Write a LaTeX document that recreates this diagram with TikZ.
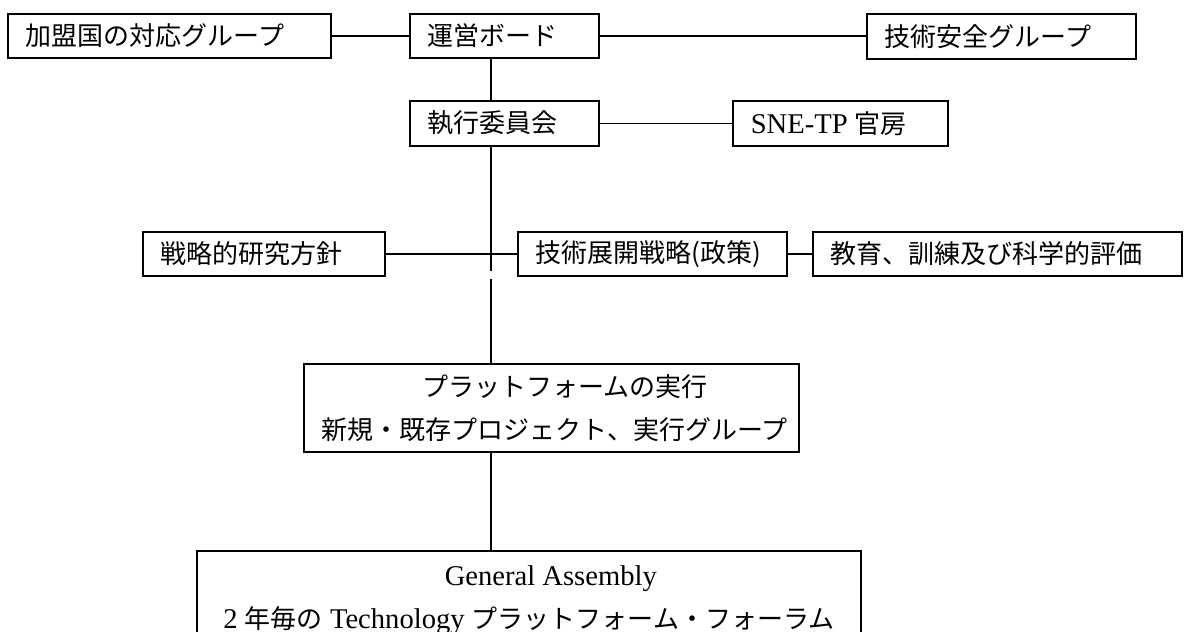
\documentclass[tikz,border=0pt]{standalone}
\usepackage{fontspec}
\setmainfont{Liberation Serif}[Scale=1.1]
\newfontfamily\jp{Noto Sans CJK JP}
\begin{document}
\begin{tikzpicture}[x=1pt,y=-1pt,
  box/.style={draw, line width=1.6pt, rectangle, anchor=north west,
    inner xsep=18pt, inner ysep=0pt, align=flush left,
    font=\fontsize{26}{43}\selectfont},
  cbox/.style={box, align=flush center},
  conn/.style={line width=1.5pt},
  spine/.style={line width=2.2pt}]
\useasboundingbox (0,0) rectangle (1184,632);
\clip (0,0) rectangle (1184,632);
\fill[white] (0,0) rectangle (1184,632);
% boxes
\node[box, text width=287pt, minimum height=44pt] (A) at (7,13) {\jp 加盟国の対応グループ};
\node[box, text width=153pt, minimum height=44pt] (B) at (409,13) {\jp 運営ボード};
\node[box, text width=233pt, minimum height=45pt] (C) at (866,13) {\jp 技術安全グループ};
\node[box, text width=153pt, minimum height=45pt] (D) at (409,100) {\jp 執行委員会};
\node[box, text width=179pt, minimum height=45pt] (SNE) at (732,100) {SNE-TP {\jp 官房}};
\node[box, text width=206pt, minimum height=44pt] (S1) at (142,231) {\jp 戦略的研究方針};
\node[box, text width=233pt, minimum height=44pt] (S2) at (517,231) {\jp 技術展開戦略(政策)};
\node[box, text width=333pt, minimum height=44pt] (S3) at (812,231) {\jp 教育、訓練及び科学的評価};
\node[cbox, text width=459pt, minimum height=88pt] (F) at (303,363)
  {\hspace*{28pt}{\jp プラットフォームの実行}\\{\jp 新規・既存プロジェクト、実行グループ}};
\node[cbox, text width=628pt, minimum height=98pt] (G) at (196,550)
  {\hspace*{44pt}General Assembly\\2 {\jp 年毎の} Technology {\jp プラットフォーム・フォーラム}};
% spine
\coordinate (sp) at (491,0);
\coordinate (gapA) at (491,271);
\coordinate (gapB) at (491,279);
\draw[spine] (sp |- B.south) -- (sp |- D.north);
\draw[spine] (sp |- D.south) -- (gapA);
\draw[spine] (gapB) -- (sp |- F.north);
\draw[spine] (sp |- F.south) -- (sp |- G.north);
% side connectors
\draw[conn] (A.east) -- (B.west);
\draw[conn] (B.east) -- (B.east -| C.west);
\draw[conn] (D.east) -- (D.east -| SNE.west);
\draw[conn] (S1.east) -- (S2.west);
\draw[conn] (S2.east) -- (S3.west);
\end{tikzpicture}
\end{document}
